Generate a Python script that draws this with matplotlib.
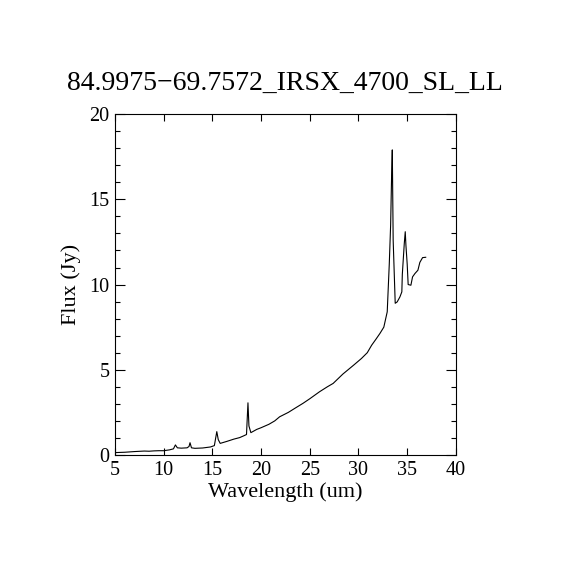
import numpy as np
import matplotlib
matplotlib.use("Agg")
import matplotlib.pyplot as plt
from matplotlib.ticker import MultipleLocator

# spectrum
wavelength = [5.0, 6.0, 7.0, 8.0, 8.5, 9.0, 9.5, 10.0, 10.6, 11.0, 11.2, 11.4, 11.8,
              12.4, 12.6, 12.7, 12.85, 13.2, 14.0, 14.8, 15.2, 15.45, 15.6, 15.8,
              16.5, 17.2, 17.8, 18.2, 18.5, 18.65, 18.75, 18.95, 19.55, 20.0, 20.8,
              21.4, 21.9, 22.8, 23.5, 24.3, 25.0, 26.0, 26.8, 27.4, 28.4, 29.5, 30.3,
              30.9, 31.35, 31.8, 32.2, 32.6, 32.95, 33.16, 33.3, 33.4, 33.47, 33.56,
              33.77, 33.97, 34.25, 34.45, 34.5, 34.7, 34.8, 34.87, 35.0, 35.1,
              35.38, 35.55, 35.8, 36.1, 36.3, 36.58, 36.9]
flux = [0.14, 0.16, 0.2, 0.23, 0.22, 0.24, 0.25, 0.25, 0.3, 0.36, 0.59, 0.42, 0.4,
        0.42, 0.5, 0.72, 0.42, 0.39, 0.41, 0.47, 0.55, 1.37, 0.9, 0.68,
        0.8, 0.93, 1.02, 1.12, 1.2, 3.06, 1.7, 1.31, 1.5, 1.6, 1.8,
        2.0, 2.24, 2.5, 2.75, 3.03, 3.3, 3.71, 4.0, 4.2, 4.75, 5.27, 5.66,
        6.0, 6.44, 6.8, 7.13, 7.5, 8.4, 11.2, 13.5, 16.4, 17.9, 12.6,
        8.9, 8.98, 9.27, 9.57, 10.6, 12.4, 13.1, 12.3, 11.2, 10.0,
        9.96, 10.45, 10.65, 10.84, 11.3, 11.58, 11.6]

title = "84.9975\u221269.7572_IRSX_4700_SL_LL"

plt.rcParams["font.family"] = ["Liberation Serif", "DejaVu Serif"]

fig = plt.figure(figsize=(5.7, 5.7), dpi=100)
ax = fig.add_axes([0.2018, 0.2018, 0.598, 0.598])

ax.plot(wavelength, flux, color="black", linewidth=0.8)

ax.set_xlim(5, 40)
ax.set_ylim(0, 20)
ax.xaxis.set_major_locator(MultipleLocator(5))
ax.yaxis.set_major_locator(MultipleLocator(5))
ax.yaxis.set_minor_locator(MultipleLocator(1))
ax.tick_params(which="both", direction="in", top=True, right=True,
               labelsize=14.5, width=0.8, pad=4)
ax.tick_params(axis="x", which="major", length=5)
ax.tick_params(axis="y", which="major", length=7)
ax.tick_params(axis="y", which="minor", length=3.5)
for sp in ax.spines.values():
    sp.set_linewidth(0.8)

ax.set_xlabel("Wavelength (um)", fontsize=16, labelpad=2)
ax.set_ylabel("Flux (Jy)", fontsize=16, labelpad=6)
fig.text(0.5, 1 - 83 / 570, title, ha="center", va="center", fontsize=20)

fig.savefig("out.png", dpi=100)
